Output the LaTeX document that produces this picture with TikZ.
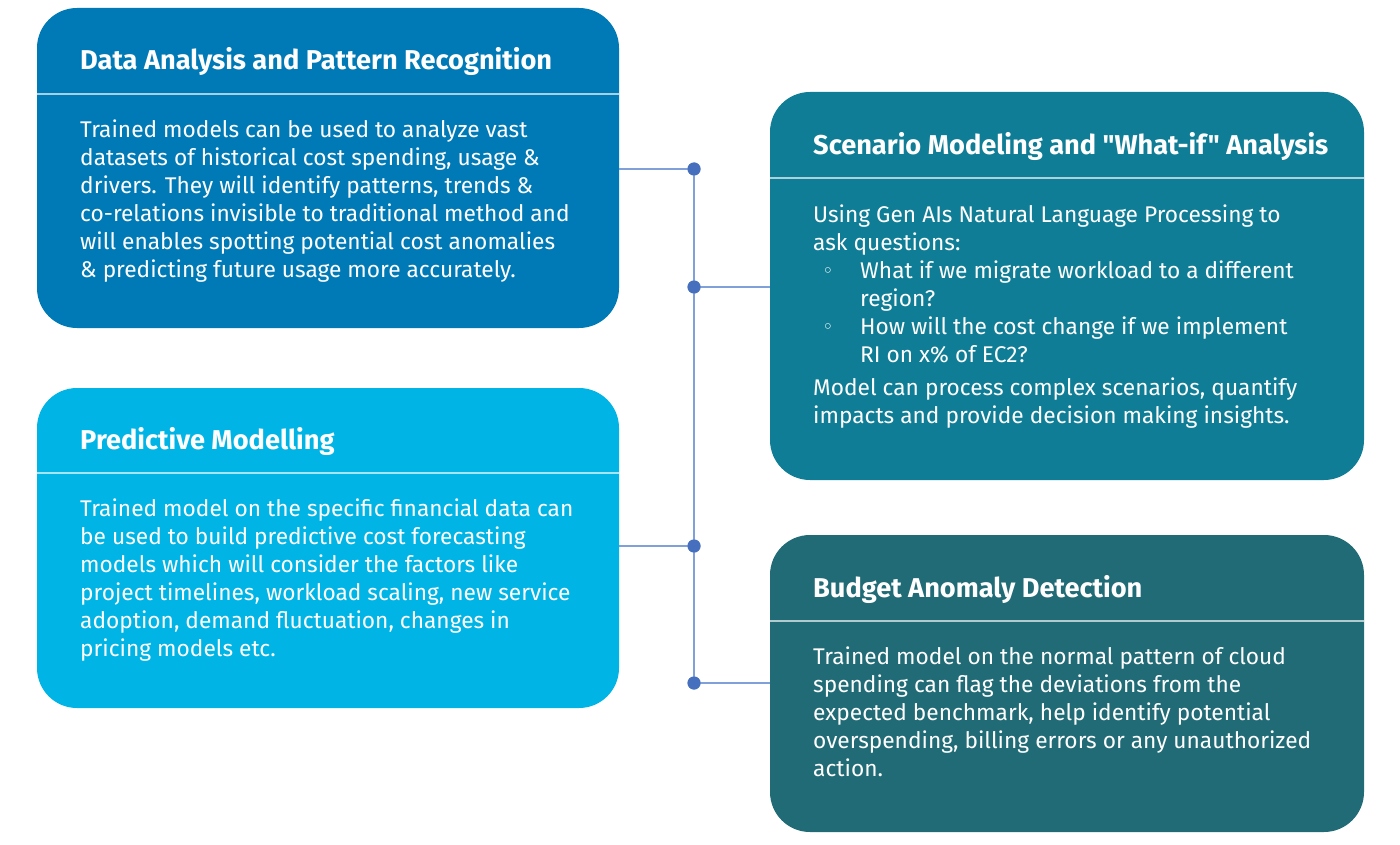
\documentclass[tikz,border=0pt]{standalone}
\usepackage{fontspec}
\setmainfont{Fira Sans}[Ligatures=TeXOff]
\newfontfamily\symfont{DejaVu Sans}
\definecolor{cA}{RGB}{0,122,182}
\definecolor{cB}{RGB}{0,181,230}
\definecolor{cC}{RGB}{15,125,149}
\definecolor{cD}{RGB}{32,107,118}
\definecolor{lnC}{RGB}{127,160,216}
\definecolor{dotC}{RGB}{70,112,190}
\tikzset{
  card/.style={rounded corners=40pt, line width=0pt},
  divline/.style={draw=white, draw opacity=0.65, line width=1.5pt},
  ttl/.style={anchor=north west, inner sep=0pt, text=white, font={\fontsize{27.2}{28}\selectfont\bfseries}},
  bodytxt/.style={anchor=north west, inner sep=0pt, text=white, align=left, font={\fontsize{22.7}{28}\selectfont}},
  bul/.style={anchor=base, inner sep=0pt, text=white, font={\symfont\fontsize{19}{28}\selectfont}},
  conn/.style={draw=lnC, line width=1.8pt},
  dotn/.style={circle, fill=dotC, inner sep=0pt, minimum size=13pt}
}
\newcommand{\st}{\rule{0pt}{20pt}}
\newcommand{\stt}{\rule{0pt}{21pt}}
\begin{document}
\begin{tikzpicture}[x=1pt,y=-1pt]
\useasboundingbox (0,0) rectangle (1400,845);
% cards
\fill[cA, card] (37,8) rectangle (619,328);
\fill[cB, card] (37,388) rectangle (619,708);
\fill[cC, card] (770,92) rectangle (1364,480);
\fill[cD, card] (770,535) rectangle (1364,832);
\draw[divline] (37,94) -- (619,94);
\draw[divline] (37,473) -- (619,473);
\draw[divline] (770,178) -- (1364,178);
\draw[divline] (770,621) -- (1364,621);
% connector nodes
\node[dotn] (d1) at (694,169) {};
\node[dotn] (d2) at (694,287) {};
\node[dotn] (d3) at (694,546) {};
\node[dotn] (d4) at (694,683) {};
\coordinate (a1) at (619,169);
\coordinate (a2) at (770,287);
\coordinate (a3) at (619,546);
\coordinate (a4) at (770,683);
\draw[conn] (d1.center) -- (d4.center);
\draw[conn] (a1) -- (d1.center);
\draw[conn] (d2.center) -- (a2);
\draw[conn] (a3) -- (d3.center);
\draw[conn] (d4.center) -- (a4);
\node[dotn] at (d1) {};
\node[dotn] at (d2) {};
\node[dotn] at (d3) {};
\node[dotn] at (d4) {};
% titles
\node[ttl] (t1) at (80,47) {\stt Data Analysis and Pattern Recognition};
\node[ttl] (t2) at (80,427) {\stt Predictive Modelling};
\node[ttl] (t3) at (813,132) {\stt Scenario Modeling and "What-if" Analysis};
\node[ttl] (t4) at (813,575) {\stt Budget Anomaly Detection};
% bodies
\node[bodytxt] (b1) at (80,117) {\st Trained models can be used to analyze vast\\
datasets of historical cost spending, usage \&\\
drivers. They will identify patterns, trends \&\\
co-relations invisible to traditional method and\\
will enables spotting potential cost anomalies\\
\& predicting future usage more accurately.};
\node[bodytxt] (b2) at (80,496) {\st Trained model on the specific financial data can\\
be used to build predictive cost forecasting\\
models which will consider the factors like\\
project timelines, workload scaling, new service\\
adoption, demand fluctuation, changes in\\
pricing models etc.};
\node[bodytxt] (b3a) at (813,202) {\st Using Gen AIs Natural Language Processing to\\
ask questions:};
\node[bodytxt] (b3b) at (860,258) {\st What if we migrate workload to a different\\
region?\\
How will the cost change if we implement\\
RI on x\% of EC2?};
\node[bul] (u1) at (828,277) {◦};
\node[bul] (u2) at (828,333) {◦};
\node[bodytxt] (b3c) at (813,375) {\st Model can process complex scenarios, quantify\\
impacts and provide decision making insights.};
\node[bodytxt] (b4) at (813,644) {\st Trained model on the normal pattern of cloud\\
spending can flag the deviations from the\\
expected benchmark, help identify potential\\
overspending, billing errors or any unauthorized\\
action.};
\end{tikzpicture}
\end{document}
